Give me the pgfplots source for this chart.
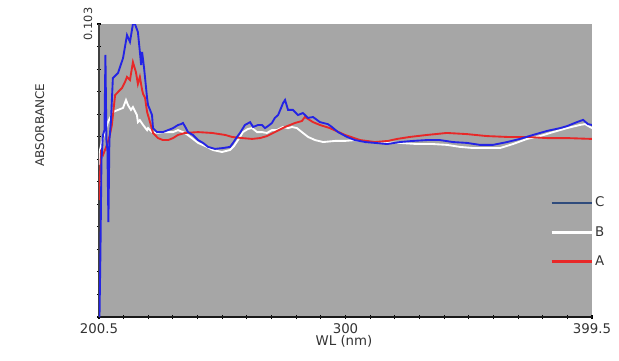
\documentclass[border=0pt]{standalone}
\usepackage{pgfplots}
\pgfplotsset{compat=1.18}
\usepackage{fontspec}
\setmainfont{DejaVu Sans}
\definecolor{bgray}{RGB}{166,166,166}
\definecolor{cblue}{RGB}{36,36,228}
\definecolor{cred}{RGB}{232,40,40}
\definecolor{cnavy}{RGB}{47,75,124}
\begin{document}
\begin{tikzpicture}
\begin{axis}[
  name=ax,
  scale only axis,
  width=369.75pt, height=219.75pt,
  xmin=200.5, xmax=399.5, ymin=0, ymax=0.103,
  axis background/.style={fill=bgray},
  axis x line*=bottom, axis y line*=left,
  axis line style={-},
  x axis line style={line width=2.2pt, color=black!90},
  y axis line style={line width=1.5pt, color=black!75},
  xtick={200.5,300,399.5}, xticklabels={200.5,300,399.5},
  minor xtick={210.45,220.4,230.35,240.3,250.25,260.2,270.15,280.1,290.05,309.95,319.9,329.85,339.8,349.75,359.7,369.65,379.6,389.55},
  ytick={0.103}, yticklabels={0.103},
  minor ytick={0,0.00792,0.01585,0.02377,0.03169,0.03962,0.04754,0.05546,0.06338,0.07131,0.07923,0.08715,0.09508},
  tick align=center, major tick length=3pt, minor tick length=3pt,
  tick style={black, line width=0.8pt},
  /pgf/number format/assume math mode=true,
  xticklabel style={font=\fontsize{10}{12}\selectfont, text=black!80},
  yticklabel style={font=\fontsize{8.5}{10}\selectfont, rotate=90, anchor=south, text=black!80},
  xlabel={WL (nm)}, ylabel={ABSORBANCE},
  xlabel style={at={(axis description cs:0.497,-0.082)}, anchor=center, font=\fontsize{10}{12}\selectfont, text=black!80},
  ylabel style={at={(axis description cs:-0.12,0.655)}, anchor=center, rotate=0, font=\fontsize{9}{11}\selectfont, text=black!80},
  legend style={at={(axis description cs:0.915,0.417)}, anchor=north west, draw=none, fill=none,
    font=\fontsize{10}{12}\selectfont, text=black!80, row sep=10pt, inner sep=0pt, nodes={inner sep=1.5pt}},
  legend cell align=left,
  legend image code/.code={\draw[#1] (0pt,0pt) -- (30pt,0pt);},
]
% B (white)
\addplot[white, line width=1.4pt, forget plot] coordinates {
(200.5,0.0534)(200.9,0.0587)(202.1,0.0629)(204.1,0.0685)(206.2,0.0721)(208.2,0.0728)(210.2,0.0735)(211.4,0.0763)(212.2,0.0745)(213.4,0.0728)(214.2,0.0738)(215.8,0.0710)(216.2,0.0685)(217.0,0.0692)(218.3,0.0675)(219.9,0.0657)(220.3,0.0664)(221.9,0.0650)(224.3,0.0647)(227.1,0.0650)(230.4,0.0650)(232.4,0.0657)(235.2,0.0647)(238.0,0.0629)(240.5,0.0612)(244.1,0.0598)(246.5,0.0587)(250.1,0.0580)(253.4,0.0587)(255.0,0.0601)(256.6,0.0622)(258.6,0.0650)(260.6,0.0661)(262.3,0.0664)(264.3,0.0650)(266.3,0.0650)(268.3,0.0647)(270.3,0.0657)(272.3,0.0657)(274.8,0.0668)(276.8,0.0664)(278.4,0.0668)(280.4,0.0664)(282.4,0.0650)(284.9,0.0633)(287.7,0.0622)(291.0,0.0615)(295.8,0.0619)(299.8,0.0619)(303.8,0.0622)(308.7,0.0615)(313.9,0.0615)(322.0,0.0612)(328.9,0.0608)(335.3,0.0608)(341.0,0.0605)(346.2,0.0598)(351.5,0.0594)(357.1,0.0594)(362.4,0.0594)(367.6,0.0608)(373.3,0.0626)(378.5,0.0636)(383.8,0.0650)(389.4,0.0664)(394.6,0.0675)(396.7,0.0678)(399.5,0.0664)
};
% A (red)
\addplot[cred, line width=1.4pt, forget plot] coordinates {
(200.5,0.0411)(200.9,0.0499)(201.3,0.0580)(202.1,0.0569)(203.7,0.0605)(204.9,0.0640)(205.7,0.0675)(207.0,0.0780)(208.2,0.0791)(209.8,0.0805)(211.0,0.0826)(211.8,0.0844)(213.0,0.0833)(214.2,0.0896)(215.4,0.0861)(216.2,0.0819)(217.0,0.0844)(217.9,0.0798)(218.3,0.0784)(219.1,0.0770)(219.9,0.0721)(221.1,0.0685)(222.3,0.0647)(224.3,0.0629)(226.3,0.0622)(228.4,0.0622)(230.4,0.0629)(232.4,0.0640)(235.2,0.0647)(240.5,0.0650)(246.1,0.0647)(251.4,0.0640)(254.2,0.0633)(258.2,0.0629)(262.3,0.0626)(265.5,0.0629)(268.3,0.0636)(271.5,0.0650)(275.6,0.0668)(279.6,0.0682)(282.4,0.0689)(283.6,0.0703)(284.9,0.0696)(286.9,0.0685)(289.7,0.0675)(293.7,0.0664)(299.8,0.0640)(305.9,0.0622)(311.9,0.0615)(317.2,0.0619)(320.8,0.0626)(326.0,0.0633)(332.9,0.0640)(340.9,0.0647)(349.0,0.0643)(357.1,0.0636)(365.2,0.0633)(373.3,0.0633)(381.3,0.0629)(389.4,0.0629)(399.5,0.0626)
};
% C (blue)
\addplot[cblue, line width=1.4pt, forget plot] coordinates {
(200.7,0.0000)(201.1,0.0236)(201.5,0.0552)(202.1,0.0640)(202.7,0.0657)(203.1,0.0921)(203.5,0.0622)(203.9,0.0587)(204.3,0.0334)(204.7,0.0622)(205.3,0.0685)(206.1,0.0840)(208.2,0.0858)(210.2,0.0910)(211.8,0.0991)(213.0,0.0967)(214.2,0.1030)(215.0,0.1030)(216.2,0.1002)(217.0,0.0932)(217.5,0.0886)(217.9,0.0932)(218.7,0.0875)(219.9,0.0770)(220.3,0.0745)(221.1,0.0728)(221.9,0.0710)(222.3,0.0664)(223.9,0.0650)(226.3,0.0650)(228.4,0.0657)(230.4,0.0664)(232.4,0.0675)(233.6,0.0678)(234.4,0.0682)(235.6,0.0664)(236.4,0.0650)(238.4,0.0640)(240.5,0.0622)(242.5,0.0612)(244.5,0.0598)(247.3,0.0591)(250.6,0.0594)(253.4,0.0598)(254.6,0.0612)(256.2,0.0633)(257.4,0.0647)(259.4,0.0675)(261.5,0.0685)(262.7,0.0668)(264.7,0.0675)(266.3,0.0675)(267.5,0.0664)(268.7,0.0671)(270.3,0.0682)(271.5,0.0700)(272.8,0.0710)(274.0,0.0735)(274.8,0.0752)(275.6,0.0763)(276.8,0.0728)(278.8,0.0728)(280.8,0.0710)(282.8,0.0717)(284.9,0.0700)(286.9,0.0703)(289.7,0.0685)(292.9,0.0678)(294.5,0.0668)(297.0,0.0650)(300.6,0.0633)(303.8,0.0622)(307.9,0.0615)(311.9,0.0612)(316.8,0.0608)(322.0,0.0615)(327.2,0.0619)(332.9,0.0622)(338.1,0.0622)(343.4,0.0615)(349.0,0.0612)(354.3,0.0605)(359.5,0.0605)(365.2,0.0615)(370.4,0.0626)(375.7,0.0640)(381.3,0.0654)(386.6,0.0664)(389.4,0.0671)(393.4,0.0685)(395.9,0.0693)(397.9,0.0678)(399.5,0.0675)
};
\addlegendimage{cnavy, line width=2pt}\addlegendentry{C}
\addlegendimage{white, line width=2pt}\addlegendentry{B}
\addlegendimage{cred, line width=2pt}\addlegendentry{A}
\end{axis}
\pgfresetboundingbox
\path ([shift={(-74.25pt,-33pt)}]ax.south west) rectangle ([shift={(390pt,237.75pt)}]ax.south west);
\end{tikzpicture}
\end{document}
